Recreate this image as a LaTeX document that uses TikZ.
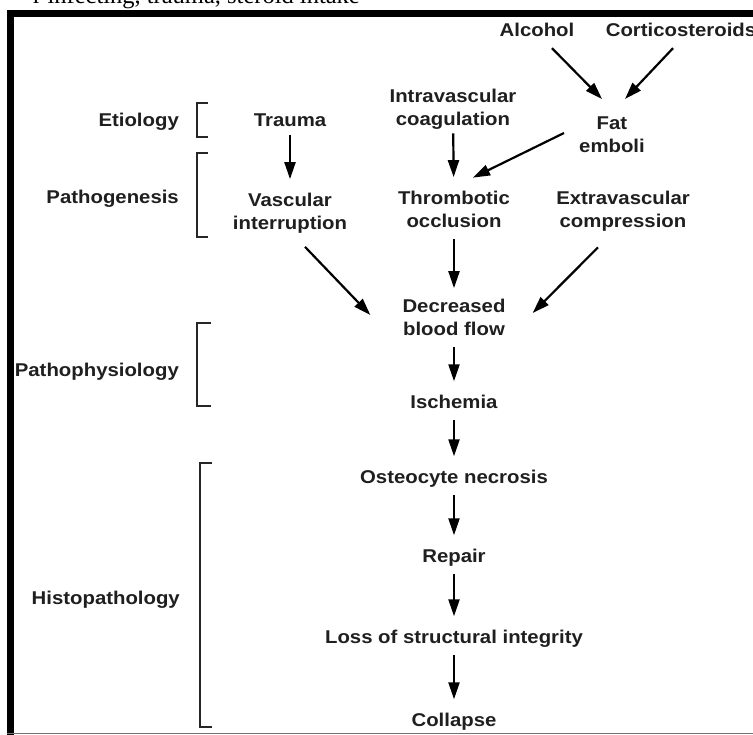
\documentclass[tikz,border=0pt]{standalone}
\usepackage{fontspec}
\setmainfont{Liberation Sans}
\newfontfamily\labfont[FakeStretch=1.1]{Liberation Sans Bold}
\newfontfamily\topfont{Liberation Serif}
\usetikzlibrary{arrows.meta}
\tikzset{
  lbl/.style={font=\labfont\fontsize{18.5}{23}\selectfont, align=center, inner sep=0pt,
    text=black!88, execute at begin node=\strut, execute at end node=\strut},
  arr/.style={line width=2.2pt, -{Triangle[length=17pt,width=11pt]}},
  vert/.style={arr, shorten <=4pt, shorten >=11pt},
  vertup/.style={arr, shorten <=1pt, shorten >=14pt},
  brk/.style={line width=1.6pt, black!85},
}
\begin{document}
\begin{tikzpicture}[x=1pt,y=-1pt]
\useasboundingbox (0,0) rectangle (753,735);
\clip (0,0) rectangle (753,735);
\fill[white] (0,0) rectangle (753,735);
% clipped caption line at top
\node[anchor=base east, inner sep=0pt] (cap) at (360,3.5) {\topfont\fontsize{24.5}{28}\selectfont r infecting, trauma, steroid intake};
% frame
\fill[black] (7,10) rectangle (753,17);
\fill[black] (7,10) rectangle (14,735);
\draw[black!55, line width=1pt] (7,733.5) -- (753,733.5);

% nodes
\node[lbl] (alc) at (537,32) {Alcohol};
\node[lbl] (cort) at (681,32) {Corticosteroids};
\node[lbl] (fat) at (612,138) {Fat\\emboli};
\node[lbl] (intra) at (453,110.5) {Intravascular\\coagulation};
\node[lbl] (trauma) at (290,122) {Trauma};
\node[lbl] (vasc) at (290,215) {Vascular\\interruption};
\node[lbl] (thromb) at (454,213) {Thrombotic\\occlusion};
\node[lbl] (extra) at (623,213) {Extravascular\\compression};
\node[lbl] (decr) at (454,321) {Decreased\\blood flow};
\node[lbl] (isch) at (454,404) {Ischemia};
\node[lbl] (osteo) at (454,479) {Osteocyte necrosis};
\node[lbl] (repair) at (454,558) {Repair};
\node[lbl] (loss) at (454,639) {Loss of structural integrity};
\node[lbl] (coll) at (454,722) {Collapse};

% stage labels
\node[lbl, anchor=east] (etio) at (179,122) {Etiology};
\node[lbl, anchor=east] (patho) at (179,199) {Pathogenesis};
\node[lbl, anchor=east] (physio) at (179,372) {Pathophysiology};
\node[lbl, anchor=east] (histo) at (180,600) {Histopathology};

% brackets
\draw[brk] (208,103) -- (197,103) -- (197,137) -- (208,137);
\draw[brk] (208,153) -- (197,153) -- (197,237) -- (208,237);
\draw[brk] (211,323) -- (197,323) -- (197,406) -- (211,406);
\draw[brk] (212,463) -- (200,463) -- (200,727) -- (212,727);

% connectors
\draw[arr] ([xshift=15pt,yshift=-4.5pt]alc.south) -- ([xshift=-10pt,yshift=17.5pt]fat.north);
\draw[arr] ([xshift=-8pt,yshift=-4.5pt]cort.south) -- ([xshift=13pt,yshift=17.5pt]fat.north);
\draw[arr] ([xshift=-15pt,yshift=5pt]fat.west) -- ([xshift=19pt,yshift=13.5pt]thromb.north);
\draw[vertup] (trauma) -- (vasc);
\draw[vertup] (intra) -- (thromb);
\draw[arr] ([xshift=15pt,yshift=-10pt]vasc.south) -- ([xshift=-32pt,yshift=6pt]decr.west);
\draw[arr] ([xshift=-25pt,yshift=-12.5pt]extra.south) -- ([xshift=27pt,yshift=8pt]decr.east);
\draw[vert] (thromb) -- (decr);
\draw[vert] (decr) -- (isch);
\draw[vert] (isch) -- (osteo);
\draw[vert] (osteo) -- (repair);
\draw[vert] (repair) -- (loss);
\draw[vert] (loss) -- (coll);
\end{tikzpicture}
\end{document}
